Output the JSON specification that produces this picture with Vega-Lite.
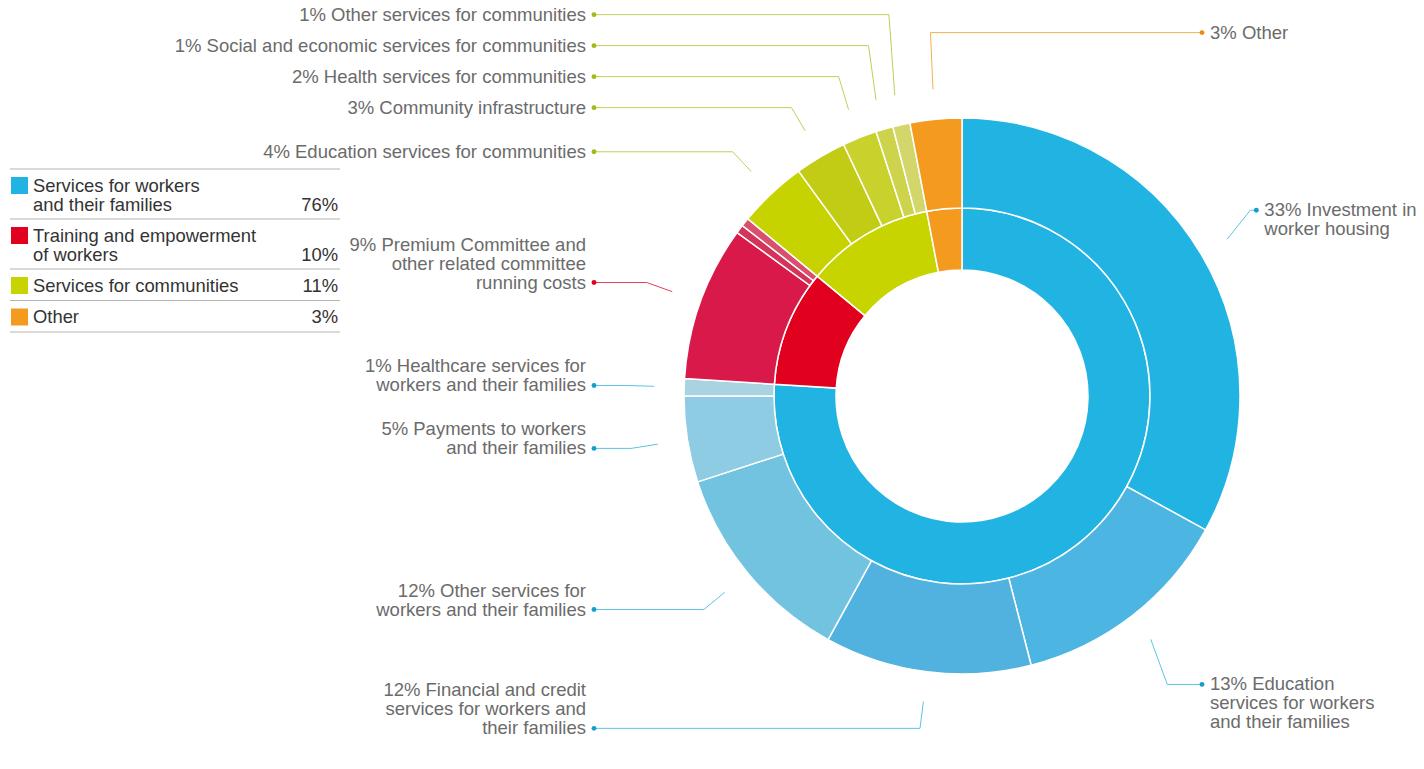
{
  "$schema": "https://vega.github.io/schema/vega-lite/v6.json",
  "width": 1424,
  "height": 769,
  "autosize": {"type": "fit", "contains": "padding"},
  "padding": 0,
  "background": "#ffffff",
  "config": {"view": {"stroke": null}, "font": "Liberation Sans"},
  "resolve": {"scale": {"x": "independent", "y": "independent", "color": "independent"}},
  "datasets": {
    "groups": [
      {"i": 1, "g": "Services for workers and their families", "name": "Services for workers\nand their families", "pct": 76},
      {"i": 2, "g": "Training and empowerment of workers", "name": "Training and empowerment\nof workers", "pct": 10},
      {"i": 3, "g": "Services for communities", "name": "Services for communities", "pct": 11},
      {"i": 4, "g": "Other", "name": "Other", "pct": 3}
    ],
    "items": [
      {"i": 1, "g": "Services for workers and their families", "label": "Investment in\nworker housing", "pct": 33},
      {"i": 2, "g": "Services for workers and their families", "label": "Education\nservices for workers\nand their families", "pct": 13},
      {"i": 3, "g": "Services for workers and their families", "label": "Financial and credit\nservices for workers and\ntheir families", "pct": 12},
      {"i": 4, "g": "Services for workers and their families", "label": "Other services for\nworkers and their families", "pct": 12},
      {"i": 5, "g": "Services for workers and their families", "label": "Payments to workers\nand their families", "pct": 5},
      {"i": 6, "g": "Services for workers and their families", "label": "Healthcare services for\nworkers and their families", "pct": 1},
      {"i": 7, "g": "Training and empowerment of workers", "label": "Premium Committee and\nother related committee\nrunning costs", "pct": 9},
      {"i": 8, "g": "Training and empowerment of workers", "label": "Other training item A", "pct": 0.5},
      {"i": 9, "g": "Training and empowerment of workers", "label": "Other training item B", "pct": 0.5},
      {"i": 10, "g": "Services for communities", "label": "Education services for communities", "pct": 4},
      {"i": 11, "g": "Services for communities", "label": "Community infrastructure", "pct": 3},
      {"i": 12, "g": "Services for communities", "label": "Health services for communities", "pct": 2},
      {"i": 13, "g": "Services for communities", "label": "Social and economic services for communities", "pct": 1},
      {"i": 14, "g": "Services for communities", "label": "Other services for communities", "pct": 1},
      {"i": 15, "g": "Other", "label": "Other", "pct": 3}
    ]
  },
  "layer": [
    {
      "data": {"name": "groups"},
      "transform": [
        {"calculate": "length(split(datum.name, '\\n'))", "as": "lines"},
        {"calculate": "18.5 * datum.lines + 13", "as": "h"},
        {"window": [{"op": "sum", "field": "h", "as": "bottom"}], "sort": [{"field": "i"}], "frame": [null, 0]},
        {"calculate": "datum.bottom - datum.h", "as": "top"},
        {"calculate": "datum.top + 16.5", "as": "first"},
        {"calculate": "datum.first + 19 * (datum.lines - 1)", "as": "last"},
        {"calculate": "datum.pct + '%'", "as": "pctText"}
      ],
      "layer": [
        {
          "mark": {"type": "rule", "color": "#b3b3b3", "strokeWidth": 1.2},
          "encoding": {
            "x": {"datum": 0, "type": "quantitative", "scale": {"domain": [-10, 1414], "nice": false, "zero": false}, "axis": null},
            "x2": {"datum": 330},
            "y": {"field": "top", "type": "quantitative", "scale": {"domain": [-169, 600], "reverse": true, "nice": false, "zero": false}, "axis": null}
          }
        },
        {
          "transform": [{"filter": "datum.i == 4"}],
          "mark": {"type": "rule", "color": "#b3b3b3", "strokeWidth": 1.2},
          "encoding": {
            "x": {"datum": 0, "type": "quantitative", "axis": null},
            "x2": {"datum": 330},
            "y": {"field": "bottom", "type": "quantitative", "axis": null}
          }
        },
        {
          "mark": {"type": "square", "size": 289, "filled": true, "opacity": 1},
          "encoding": {
            "x": {"datum": 9.5, "type": "quantitative", "axis": null},
            "y": {"field": "first", "type": "quantitative", "axis": null},
            "color": {"field": "g", "type": "nominal", "legend": null,
              "scale": {"domain": ["Services for workers and their families", "Training and empowerment of workers", "Services for communities", "Other"],
                        "range": ["#21b4e3", "#e1001e", "#c8d400", "#f39a1f"]}}
          }
        },
        {
          "mark": {"type": "text", "align": "left", "baseline": "alphabetic", "dy": 6, "fontSize": 18.4, "lineHeight": 19, "lineBreak": "\n", "color": "#333333"},
          "encoding": {
            "x": {"datum": 23, "type": "quantitative", "axis": null},
            "y": {"field": "first", "type": "quantitative", "axis": null},
            "text": {"field": "name"}
          }
        },
        {
          "mark": {"type": "text", "align": "right", "baseline": "alphabetic", "dy": 6, "fontSize": 18.4, "color": "#333333"},
          "encoding": {
            "x": {"datum": 328, "type": "quantitative", "axis": null},
            "y": {"field": "last", "type": "quantitative", "axis": null},
            "text": {"field": "pctText"}
          }
        }
      ]
    },
    {
      "resolve": {"scale": {"color": "independent"}},
      "layer": [
        {
          "data": {"name": "groups"},
          "transform": [
            {"window": [{"op": "sum", "field": "pct", "as": "end"}], "sort": [{"field": "i"}], "frame": [null, 0]},
            {"calculate": "datum.end - datum.pct", "as": "start"}
          ],
          "mark": {"type": "arc", "innerRadius": 126, "outerRadius": 188, "stroke": "#ffffff", "strokeWidth": 1.5},
          "encoding": {
            "x": {"datum": 0, "type": "quantitative", "scale": {"domain": [-962, 462], "nice": false, "zero": false}, "axis": null},
            "y": {"datum": 0, "type": "quantitative", "scale": {"domain": [-373, 396], "nice": false, "zero": false}, "axis": null},
            "theta": {"field": "start", "type": "quantitative", "stack": null, "scale": {"domain": [0, 100], "range": [0, 6.283185307179586]}},
            "theta2": {"field": "end"},
            "color": {"field": "g", "type": "nominal", "legend": null,
              "scale": {"domain": ["Services for workers and their families", "Training and empowerment of workers", "Services for communities", "Other"],
                        "range": ["#21b4e3", "#e1001e", "#c8d400", "#f39a1f"]}}
          }
        },
        {
          "data": {"name": "items"},
          "transform": [
            {"window": [{"op": "sum", "field": "pct", "as": "end"}], "sort": [{"field": "i"}], "frame": [null, 0]},
            {"calculate": "datum.end - datum.pct", "as": "start"},
            {"calculate": "(datum.end - datum.pct / 2) * PI / 50", "as": "th"},
            {"calculate": "datum.pct < 1 ? 'N' : (((datum.end - datum.pct / 2) < 50 || (datum.end - datum.pct / 2) > 97.5) ? 'R' : 'L')", "as": "side"},
            {"calculate": "length(split(datum.label, '\\n'))", "as": "lines"},
            {"calculate": "308 * sin(datum.th)", "as": "x1"},
            {"calculate": "308 * cos(datum.th)", "as": "y1"},
            {"calculate": "335 * sin(datum.th)", "as": "xe"},
            {"calculate": "335 * cos(datum.th)", "as": "ye"},
            {"window": [{"op": "lag", "field": "lines", "param": 1, "as": "prevLines"}, {"op": "row_number", "as": "rn"}], "groupby": ["side"], "sort": [{"field": "th"}]},
            {"calculate": "datum.rn == 1 ? 0 : 19 * (datum.prevLines - 1) + 31", "as": "sp"},
            {"window": [{"op": "sum", "field": "sp", "as": "S"}], "groupby": ["side"], "sort": [{"field": "th"}], "frame": [null, 0]},
            {"calculate": "datum.ye - datum.S", "as": "t"},
            {"window": [{"op": "max", "field": "t", "as": "M"}], "groupby": ["side"], "sort": [{"field": "th"}], "frame": [null, 0]},
            {"calculate": "datum.side == 'L' ? datum.M + datum.S : 365 * cos(datum.th)", "as": "yl"},
            {"calculate": "datum.side == 'L' ? -368 : max(datum.xe + 6, 240)", "as": "xd"},
            {"calculate": "datum.side == 'L' ? datum.yl + 19 * (datum.lines - 1) : datum.yl", "as": "yt"},
            {"calculate": "datum.pct + '% ' + datum.label", "as": "txt"}
          ],
          "resolve": {"scale": {"color": "independent"}},
          "layer": [
            {
              "mark": {"type": "arc", "innerRadius": 188, "outerRadius": 278, "stroke": "#ffffff", "strokeWidth": 1.5},
              "encoding": {
                "x": {"datum": 0, "type": "quantitative", "axis": null},
                "y": {"datum": 0, "type": "quantitative", "axis": null},
                "theta": {"field": "start", "type": "quantitative", "stack": null, "scale": {"domain": [0, 100], "range": [0, 6.283185307179586]}},
                "theta2": {"field": "end"},
                "color": {"field": "i", "type": "nominal", "legend": null,
                  "scale": {"domain": [1, 2, 3, 4, 5, 6, 7, 8, 9, 10, 11, 12, 13, 14, 15],
                            "range": ["#21b4e3", "#4cb5e1", "#52b2df", "#72c3e0", "#8dcce2", "#a9d3e1", "#d9194a", "#d3355a", "#d8506e", "#c6d300", "#c3cc14", "#c9d12d", "#cdd44b", "#d3d66a", "#f39a1f"]}}
              }
            },
            {
              "transform": [{"filter": "datum.side != 'N'"}],
              "mark": {"type": "rule", "strokeWidth": 1},
              "encoding": {
                "x": {"field": "x1", "type": "quantitative", "axis": null},
                "y": {"field": "y1", "type": "quantitative", "axis": null},
                "x2": {"field": "xe"},
                "y2": {"field": "yl"},
                "color": {"field": "g", "type": "nominal", "legend": null,
                  "scale": {"domain": ["Services for workers and their families", "Training and empowerment of workers", "Services for communities", "Other"],
                            "range": ["#5cc4e6", "#e2415a", "#c3cd55", "#f2b24e"]}}
              }
            },
            {
              "transform": [{"filter": "datum.side != 'N'"}],
              "mark": {"type": "rule", "strokeWidth": 1},
              "encoding": {
                "x": {"field": "xe", "type": "quantitative", "axis": null},
                "y": {"field": "yl", "type": "quantitative", "axis": null},
                "x2": {"field": "xd"},
                "y2": {"field": "yl"},
                "color": {"field": "g", "type": "nominal", "legend": null,
                  "scale": {"domain": ["Services for workers and their families", "Training and empowerment of workers", "Services for communities", "Other"],
                            "range": ["#5cc4e6", "#e2415a", "#c3cd55", "#f2b24e"]}}
              }
            },
            {
              "transform": [{"filter": "datum.side != 'N'"}],
              "mark": {"type": "point", "filled": true, "opacity": 1, "size": 24},
              "encoding": {
                "x": {"field": "xd", "type": "quantitative", "axis": null},
                "y": {"field": "yl", "type": "quantitative", "axis": null},
                "color": {"field": "g", "type": "nominal", "legend": null,
                  "scale": {"domain": ["Services for workers and their families", "Training and empowerment of workers", "Services for communities", "Other"],
                            "range": ["#149fcf", "#e2001a", "#a6b81a", "#ee8a10"]}}
              }
            },
            {
              "transform": [{"filter": "datum.side == 'L'"}],
              "mark": {"type": "text", "align": "right", "baseline": "alphabetic", "dx": -8, "dy": 6, "fontSize": 18.5, "lineHeight": 19, "lineBreak": "\n", "color": "#6b6b6b"},
              "encoding": {
                "x": {"field": "xd", "type": "quantitative", "axis": null},
                "y": {"field": "yt", "type": "quantitative", "axis": null},
                "text": {"field": "txt"}
              }
            },
            {
              "transform": [{"filter": "datum.side == 'R'"}],
              "mark": {"type": "text", "align": "left", "baseline": "alphabetic", "dx": 8, "dy": 6, "fontSize": 18.5, "lineHeight": 19, "lineBreak": "\n", "color": "#6b6b6b"},
              "encoding": {
                "x": {"field": "xd", "type": "quantitative", "axis": null},
                "y": {"field": "yt", "type": "quantitative", "axis": null},
                "text": {"field": "txt"}
              }
            }
          ]
        }
      ]
    }
  ]
}
